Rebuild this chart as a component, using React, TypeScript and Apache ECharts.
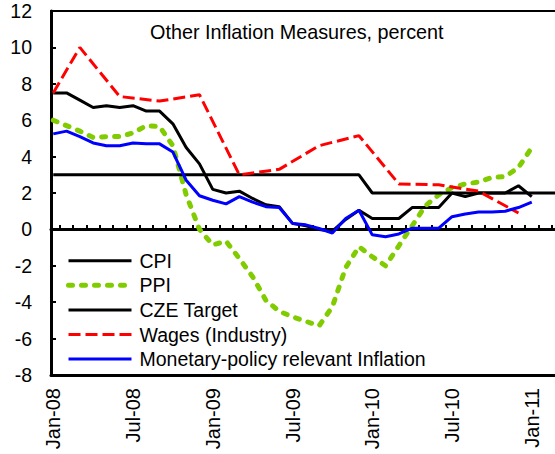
import React, { useEffect, useRef } from "react";
import * as echarts from "echarts";

const months = [
  "Jan-08", "Feb-08", "Mar-08", "Apr-08", "May-08", "Jun-08", "Jul-08", "Aug-08", "Sep-08", "Oct-08", "Nov-08", "Dec-08",
  "Jan-09", "Feb-09", "Mar-09", "Apr-09", "May-09", "Jun-09", "Jul-09", "Aug-09", "Sep-09", "Oct-09", "Nov-09", "Dec-09",
  "Jan-10", "Feb-10", "Mar-10", "Apr-10", "May-10", "Jun-10", "Jul-10", "Aug-10", "Sep-10", "Oct-10", "Nov-10", "Dec-10",
  "Jan-11", "Feb-11", "Mar-11",
];

const cpi = [
  7.5, 7.5, 7.1, 6.7, 6.8, 6.7, 6.8, 6.5, 6.5, 5.8, 4.5, 3.6,
  2.2, 2.0, 2.1, 1.7, 1.35, 1.25, 0.33, 0.2, 0.0, -0.1, 0.55, 1.05,
  0.6, 0.6, 0.6, 1.2, 1.2, 1.2, 2.0, 1.8, 2.0, 2.0, 2.0, 2.4,
  1.8, null, null,
];

const ppi = [
  6.0, 5.7, 5.4, 5.05, 5.1, 5.1, 5.3, 5.7, 5.65, 4.6, 1.9, 0.0,
  -0.85, -0.65, -1.6, -2.6, -3.9, -4.5, -4.8, -5.05, -5.3, -4.25, -2.1, -0.95,
  -1.5, -2.0, -0.9, 0.2, 1.3, 1.9, 2.3, 2.5, 2.6, 2.85, 2.9, 3.4,
  4.5, null, null,
];

const target = [
  3, 3, 3, 3, 3, 3, 3, 3, 3, 3, 3, 3,
  3, 3, 3, 3, 3, 3, 3, 3, 3, 3, 3, 3,
  2, 2, 2, 2, 2, 2, 2, 2, 2, 2, 2, 2,
  2, 2, 2,
];

const wages = [
  7.5, null, 10.0, null, null, 7.3, null, null, 7.05, null, null, 7.4,
  null, null, 3.0, null, null, 3.3, null, null, 4.6, null, null, 5.15,
  null, null, 2.5, null, null, 2.45, null, null, 2.1, null, null, 0.9,
  null, null, null,
];

const mpri = [
  5.25, 5.4, 5.1, 4.75, 4.6, 4.6, 4.75, 4.7, 4.7, 4.25, 2.7, 1.85,
  1.6, 1.4, 1.8, 1.5, 1.25, 1.2, 0.33, 0.25, 0.05, -0.2, 0.6, 1.05,
  -0.3, -0.4, -0.25, 0.07, 0.07, 0.07, 0.7, 0.85, 0.95, 0.95, 1.0, 1.2,
  1.5, null, null,
];

const seriesNames = ["CPI", "PPI", "CZE Target", "Wages (Industry)", "Monetary-policy relevant Inflation"];
const xLabelIdx = [0, 6, 12, 18, 24, 30, 36];
const xTickIdx = [
  0.5, 1.5, 2.5, 3.5, 4.5, 5.5, 6.5, 7.5, 8.5, 9.5, 10.5, 11.5, 12.5, 13.5, 14.5, 15.5, 16.5, 17.5, 18.5,
  19.5, 20.5, 21.5, 22.5, 23.5, 24.5, 25.5, 26.5, 27.5, 28.5, 29.5, 30.5, 31.5, 32.5, 33.5, 34.5, 35.5, 36.5, 37.5,
];
const title = "Other Inflation Measures, percent";

const FONT = 'Arial, "Liberation Sans", sans-serif';
const FS = 19.5;
const X_MIN = -0.17;
const X_MAX = 38.2;

const toXY = (arr: (number | null)[]) => arr.map((v, i) => [i, v == null ? "-" : v]);

export default function App() {
  const ref = useRef<HTMLDivElement>(null);
  useEffect(() => {
    if (!ref.current) return;
    const chart = echarts.init(ref.current, null, { renderer: "svg" });
    const option: any = {
      animation: false,
      backgroundColor: "#fff",
      title: {
        text: title,
        left: 150,
        top: 22,
        padding: 0,
        textStyle: { fontFamily: FONT, fontSize: FS + 0.3, fontWeight: "normal", color: "#000" },
      },
      legend: {
        orient: "vertical",
        left: 66,
        top: 250.7,
        padding: 0,
        itemWidth: 63,
        itemHeight: 20,
        itemGap: 4.6,
        selectedMode: false,
        itemStyle: { color: "transparent", borderColor: "transparent", borderWidth: 0, opacity: 0 },
        lineStyle: { width: "inherit" },
        textStyle: { fontFamily: FONT, fontSize: FS, color: "#000", lineHeight: 20, padding: [0, 0, 0, 3] },
        data: seriesNames,
      },
      grid: {
        left: 51,
        top: 11,
        width: 510,
        height: 364,
        show: true,
        borderColor: "#000",
        borderWidth: 2,
        backgroundColor: "transparent",
        containLabel: false,
        outerBoundsMode: "none",
      },
      xAxis: [
        {
          type: "value",
          position: "bottom",
          min: X_MIN,
          max: X_MAX,
          axisLine: { show: true, onZero: false, lineStyle: { color: "#000", width: 3 } },
          axisTick: { show: false },
          splitLine: { show: false },
          axisLabel: {
            customValues: xLabelIdx,
            rotate: 90,
            margin: 13,
            fontFamily: FONT,
            fontSize: FS + 0.5,
            color: "#000",
            formatter: (v: number) => months[Math.round(v)],
          },
        },
        {
          type: "value",
          position: "top",
          min: X_MIN,
          max: X_MAX,
          axisLine: { show: true, onZero: true, lineStyle: { color: "#000", width: 3 } },
          axisTick: { show: true, inside: false, length: 4.5, customValues: xTickIdx, lineStyle: { color: "#000", width: 2 } },
          axisLabel: { show: false },
          splitLine: { show: false },
        },
      ],
      yAxis: {
        type: "value",
        min: -8,
        max: 12,
        interval: 2,
        axisLine: { show: true, onZero: false, lineStyle: { color: "#000", width: 3 } },
        axisTick: { show: true, inside: true, length: 5, lineStyle: { color: "#000", width: 2 } },
        splitLine: { show: false },
        axisLabel: { margin: 19, fontFamily: FONT, fontSize: FS, color: "#000" },
      },
      series: [
        {
          name: seriesNames[0],
          type: "line",
          symbol: "none",
          data: toXY(cpi),
          itemStyle: { color: "#000" },
          lineStyle: { color: "#000", width: 3 },
        },
        {
          name: seriesNames[1],
          type: "line",
          symbol: "none",
          data: toXY(ppi),
          itemStyle: { color: "#80CC00" },
          lineStyle: { color: "#80CC00", width: 5, type: [4, 9], cap: "round" },
        },
        {
          name: seriesNames[2],
          type: "line",
          symbol: "none",
          data: toXY(target),
          itemStyle: { color: "#000" },
          lineStyle: { color: "#000", width: 3 },
        },
        {
          name: seriesNames[3],
          type: "line",
          symbol: "none",
          connectNulls: true,
          data: toXY(wages),
          itemStyle: { color: "#FF0000" },
          lineStyle: { color: "#FF0000", width: 3, type: [12, 5] },
        },
        {
          name: seriesNames[4],
          type: "line",
          symbol: "none",
          data: toXY(mpri),
          itemStyle: { color: "#0000FF" },
          lineStyle: { color: "#0000FF", width: 3 },
        },
      ],
    };
    chart.setOption(option);
    return () => chart.dispose();
  }, []);
  return <div ref={ref} style={{ position: "fixed", left: 0, top: 0, width: 555, height: 454 }} />;
}
